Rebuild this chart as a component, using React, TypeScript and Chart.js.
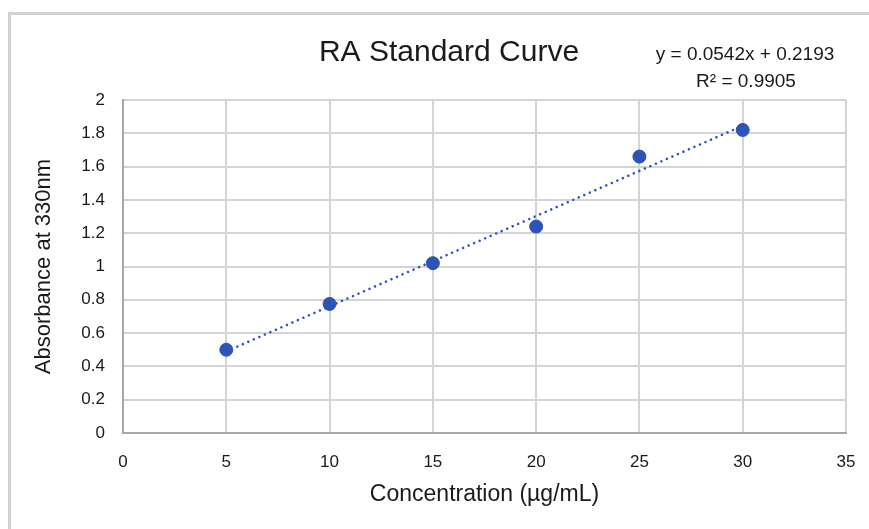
import React, { useEffect, useRef } from "react";
import { Chart, registerables } from "chart.js";

Chart.register(...registerables);

const concentration = [5, 10, 15, 20, 25, 30];
const absorbance = [0.5, 0.775, 1.02, 1.24, 1.66, 1.82];
const trendX = [5, 30];
const trendY = [0.49, 1.845];
const titleText = "RA Standard Curve";
const equationText = "y = 0.0542x + 0.2193";
const r2Text = "R\u00B2 = 0.9905";
const xTitle = "Concentration (\u00B5g/mL)";
const yTitle = "Absorbance at 330nm";

const FONT = "'Liberation Sans', Arial, sans-serif";
const BLUE = "#2E53B6";

export default function App() {
  const ref = useRef<HTMLCanvasElement | null>(null);

  useEffect(() => {
    document.body.style.margin = "0";
    const canvas = ref.current;
    if (!canvas) return;

    const textPlugin = {
      id: "textPlugin",
      afterDraw(chart: any) {
        const ctx = chart.ctx;
        ctx.save();
        ctx.fillStyle = "#1a1a1a";
        ctx.textAlign = "center";
        ctx.textBaseline = "middle";
        ctx.font = `30px ${FONT}`;
        ctx.fillText(titleText, 449, 53);
        ctx.font = `19px ${FONT}`;
        ctx.fillText(equationText, 745, 55);
        ctx.fillText(r2Text, 746, 82);
        ctx.restore();
      },
    };

    const chart = new Chart(canvas, {
      type: "scatter",
      data: {
        datasets: [
          {
            label: "Trend",
            data: trendX.map((x, i) => ({ x, y: trendY[i] })),
            showLine: true,
            borderColor: BLUE,
            borderWidth: 2.6,
            borderDash: [0.01, 6],
            borderCapStyle: "round",
            pointRadius: 0,
            order: 2,
          },
          {
            label: "Absorbance",
            data: concentration.map((x, i) => ({ x, y: absorbance[i] })),
            backgroundColor: BLUE,
            borderColor: BLUE,
            pointRadius: 6.5,
            order: 1,
          },
        ],
      },
      options: {
        animation: false,
        responsive: false,
        layout: { padding: { left: 0, right: 23, top: 100, bottom: 0 } },
        plugins: {
          legend: { display: false },
          tooltip: { enabled: false },
          title: { display: false },
        },
        scales: {
          x: {
            type: "linear",
            min: 0,
            max: 35,
            ticks: {
              stepSize: 5,
              padding: 2,
              color: "#1a1a1a",
              font: { family: FONT, size: 17 },
            },
            grid: {
              color: "#d4d4d4",
              lineWidth: 2,
              drawTicks: true,
              tickLength: 17,
              tickColor: "rgba(0,0,0,0)",
            },
            border: { color: "#a8a8a8", width: 2 },
            title: {
              display: true,
              text: xTitle,
              color: "#1a1a1a",
              font: { family: FONT, size: 23 },
              padding: { top: 0, bottom: 21 },
            },
            afterFit(scale: any) {
              scale.height = 96;
            },
          },
          y: {
            type: "linear",
            min: 0,
            max: 2,
            ticks: {
              stepSize: 0.2,
              padding: 18,
              color: "#1a1a1a",
              font: { family: FONT, size: 17 },
              callback: (v: any) => String(Number(Number(v).toFixed(1))),
            },
            grid: { color: "#d4d4d4", lineWidth: 2, drawTicks: false },
            border: { color: "#a8a8a8", width: 2 },
            title: {
              display: true,
              text: yTitle,
              color: "#1a1a1a",
              font: { family: FONT, size: 22 },
              padding: { top: 31, bottom: 0 },
            },
            afterFit(scale: any) {
              scale.width = 123;
            },
          },
        },
      },
      plugins: [textPlugin],
    } as any);

    return () => chart.destroy();
  }, []);

  return (
    <div style={{ position: "relative", width: 869, height: 529, overflow: "hidden", background: "#fff" }}>
      <div
        style={{
          position: "absolute",
          left: 8,
          top: 12,
          width: 900,
          height: 600,
          borderLeft: "3px solid #d2d2d2",
          borderTop: "3px solid #d2d2d2",
        }}
      />
      <canvas ref={ref} width={869} height={529} style={{ position: "absolute", left: 0, top: 0 }} />
    </div>
  );
}
